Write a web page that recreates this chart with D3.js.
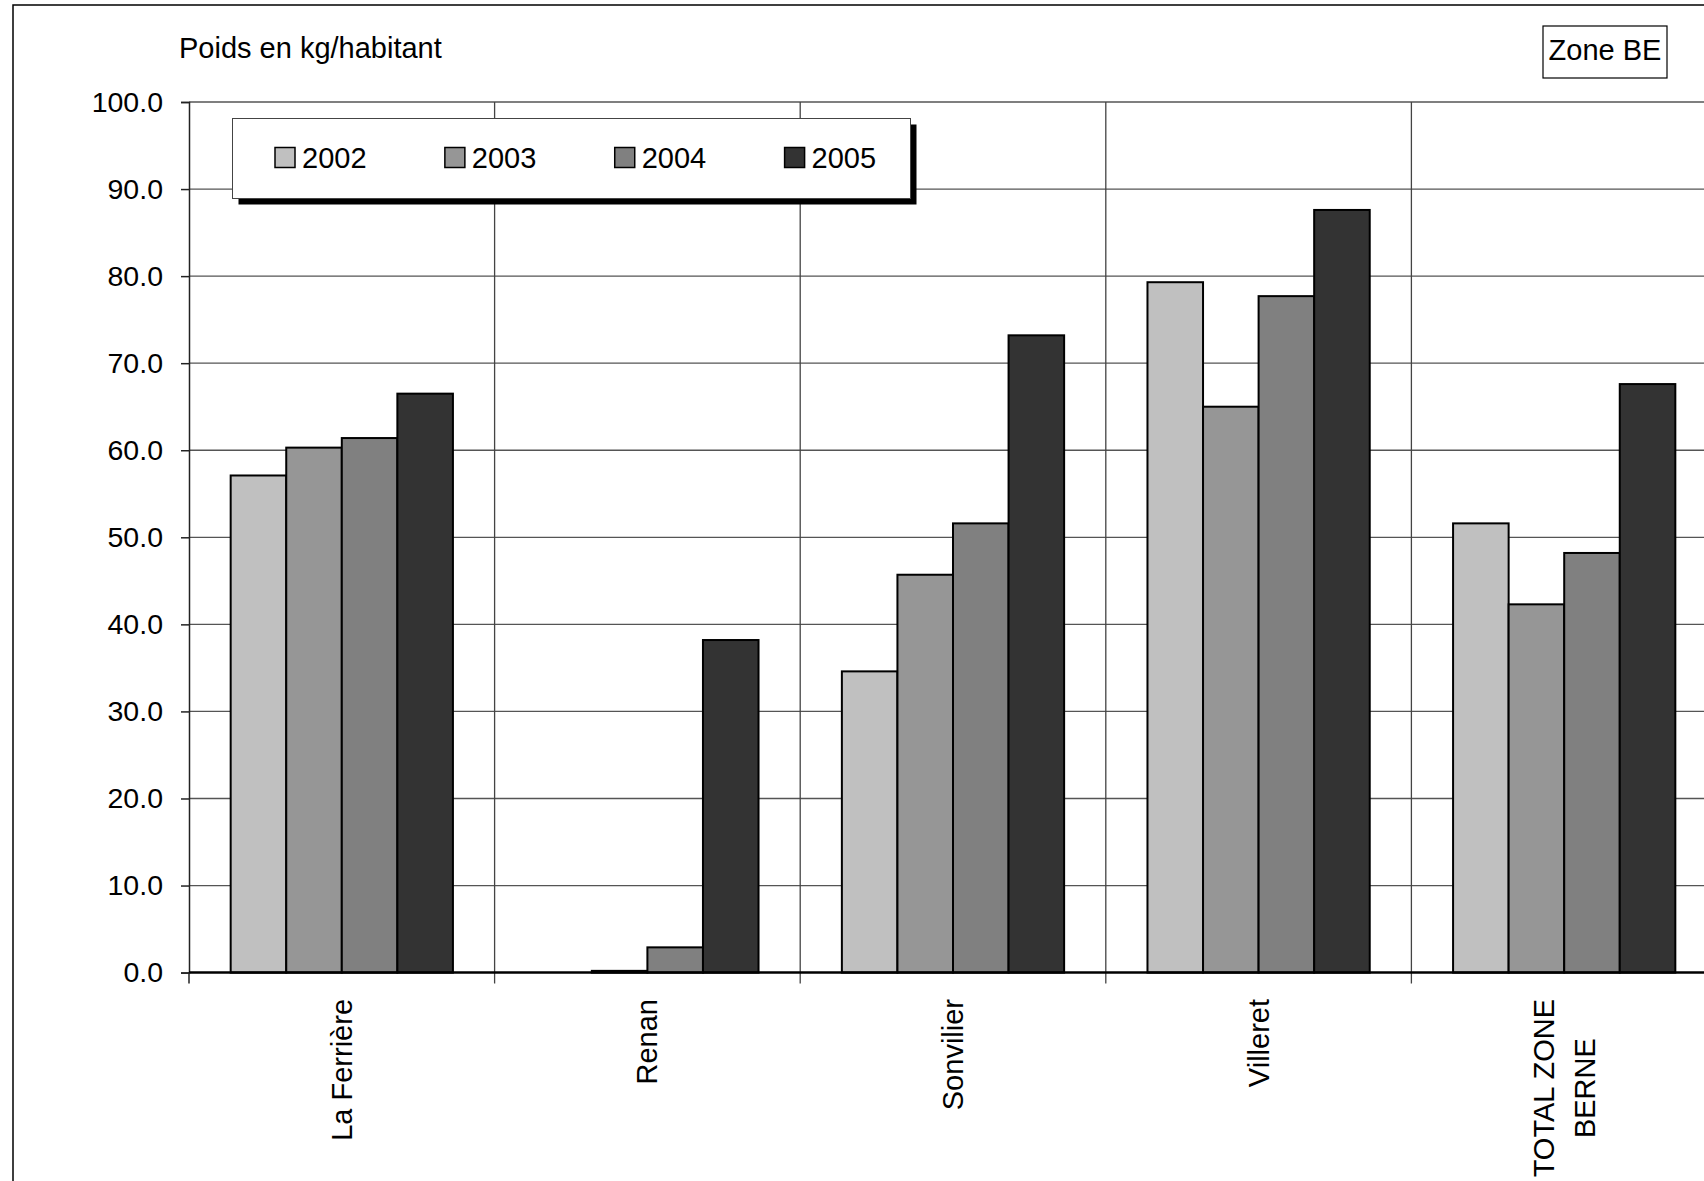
<!DOCTYPE html>
<html>
<head>
<meta charset="utf-8">
<script src="https://cdn.jsdelivr.net/npm/d3@7"></script>
<style>
  html, body { margin: 0; padding: 0; background: #fff; overflow: hidden; }
  svg { display: block; font-family: "Liberation Sans", Arial, sans-serif; }
</style>
</head>
<body>
<svg id="chart" width="1704" height="1181"></svg>
<script>
// ---- data ----
const categories = ["La Ferrière", "Renan", "Sonvilier", "Villeret", "TOTAL ZONE\nBERNE"];
const seriesNames = ["2002", "2003", "2004", "2005"];
const values2002 = [57.1, 0.0, 34.6, 79.3, 51.6];
const values2003 = [60.3, 0.2, 45.7, 65.0, 42.3];
const values2004 = [61.4, 2.9, 51.6, 77.7, 48.2];
const values2005 = [66.5, 38.2, 73.2, 87.6, 67.6];
const yTicks = [0, 10, 20, 30, 40, 50, 60, 70, 80, 90, 100];
const seriesColors = ["#c0c0c0", "#969696", "#808080", "#333333"];
const yTitle = "Poids en kg/habitant";
const zoneLabel = "Zone BE";

const seriesValues = [values2002, values2003, values2004, values2005];
const table = categories.map((c, i) => ({
  cat: c,
  vals: seriesNames.map((s, j) => ({ s, j, v: seriesValues[j][i] }))
}));

// ---- layout ----
const svg = d3.select("#chart");
const plotLeft = 189, plotTop = 102, plotBottom = 972.6, catW = 305.6;
const plotRight = plotLeft + catW * categories.length;

const x = d3.scaleBand().domain(categories).range([plotLeft, plotRight]).padding(0);
const xs = d3.scaleBand().domain(seriesNames).range([0, x.bandwidth()])
  .paddingInner(0).paddingOuter(0.75);
const y = d3.scaleLinear().domain([0, 100]).range([plotBottom, plotTop]);

// outer frame (extends beyond the visible area)
svg.append("rect").attr("x", 13).attr("y", 5).attr("width", 1800).attr("height", 1300)
  .attr("fill", "none").attr("stroke", "#000").attr("stroke-width", 1.5);

// horizontal gridlines
svg.append("g").selectAll("line").data(yTicks.filter(d => d > 0)).join("line")
  .attr("x1", plotLeft).attr("x2", plotRight)
  .attr("y1", d => y(d)).attr("y2", d => y(d))
  .attr("stroke", "#555").attr("stroke-width", 1.3);

// vertical category gridlines (boundaries)
const bounds = categories.slice(1).map(c => x(c));
svg.append("g").selectAll("line").data(bounds).join("line")
  .attr("x1", d => d).attr("x2", d => d)
  .attr("y1", plotTop).attr("y2", plotBottom + 11)
  .attr("stroke", "#444").attr("stroke-width", 1.3);

// bars
const groups = svg.append("g").selectAll("g").data(table).join("g")
  .attr("transform", d => `translate(${x(d.cat)},0)`);
groups.selectAll("rect").data(d => d.vals.filter(v => v.v > 0)).join("rect")
  .attr("x", d => xs(d.s)).attr("width", xs.bandwidth())
  .attr("y", d => y(d.v)).attr("height", d => y(0) - y(d.v))
  .attr("fill", d => seriesColors[d.j])
  .attr("stroke", "#000").attr("stroke-width", 2);

// y axis
const yAxis = d3.axisLeft(y).tickValues(yTicks).tickFormat(d3.format(".1f")).tickSize(8).tickPadding(18);
const yg = svg.append("g").attr("transform", `translate(${plotLeft},0)`).call(yAxis);
yg.select(".domain").attr("stroke", "#222").attr("stroke-width", 1.5);
yg.selectAll(".tick line").attr("stroke", "#222").attr("stroke-width", 1.5);
yg.selectAll(".tick text").attr("font-size", 28.5).attr("fill", "#000")
  .attr("font-family", "'Liberation Sans', Arial, sans-serif");

// x axis line at zero
svg.append("line").attr("x1", plotLeft).attr("x2", plotRight)
  .attr("y1", y(0)).attr("y2", y(0)).attr("stroke", "#000").attr("stroke-width", 2.5);
// first tick at y-axis bottom
svg.append("line").attr("x1", plotLeft).attr("x2", plotLeft)
  .attr("y1", y(0)).attr("y2", y(0) + 11).attr("stroke", "#222").attr("stroke-width", 1.5);

// category labels (rotated)
const labelTop = 999, lineGap = 41;
categories.forEach(c => {
  const lines = c.split("\n");
  const g = svg.append("g");
  const texts = lines.map((ln, i) => g.append("text").text(ln)
    .attr("font-size", 29).attr("fill", "#000").attr("text-anchor", "middle")
    .attr("dominant-baseline", "central")
    .attr("x", 0).attr("y", (i - (lines.length - 1) / 2) * lineGap));
  const maxLen = d3.max(texts, t => t.node().getComputedTextLength());
  const cx = x(c) + x.bandwidth() / 2;
  g.attr("transform", `translate(${cx},${labelTop + maxLen / 2}) rotate(-90)`);
});

// y title
svg.append("text").attr("x", 179).attr("y", 48).attr("dominant-baseline", "central")
  .attr("font-size", 29).attr("fill", "#000").text(yTitle);

// zone label box
svg.append("rect").attr("x", 1543).attr("y", 26).attr("width", 124).attr("height", 52)
  .attr("fill", "#fff").attr("stroke", "#000").attr("stroke-width", 1.2);
svg.append("text").attr("x", 1605).attr("y", 50).attr("text-anchor", "middle")
  .attr("dominant-baseline", "central").attr("font-size", 29).attr("fill", "#000").text(zoneLabel);

// legend
const lg = svg.append("g");
const lx = 232.5, ly = 118.5, lw = 678, lh = 80;
lg.append("rect").attr("x", lx + 6).attr("y", ly + 6).attr("width", lw).attr("height", lh).attr("fill", "#000");
lg.append("rect").attr("x", lx).attr("y", ly).attr("width", lw).attr("height", lh)
  .attr("fill", "#fff").attr("stroke", "#444").attr("stroke-width", 1);
const legendX = d3.scalePoint().domain(seriesNames).range([275, 784.6]);
const items = lg.selectAll("g.item").data(seriesNames).join("g").attr("class", "item")
  .attr("transform", d => `translate(${legendX(d)},${ly + lh / 2 - 1})`);
items.append("rect").attr("x", 0).attr("y", -10).attr("width", 20).attr("height", 20)
  .attr("fill", (d, i) => seriesColors[i]).attr("stroke", "#000").attr("stroke-width", 1.5);
items.append("text").attr("x", 27).attr("y", 0).attr("dominant-baseline", "central")
  .attr("font-size", 29).attr("fill", "#000").text(d => d);
</script>
</body>
</html>
